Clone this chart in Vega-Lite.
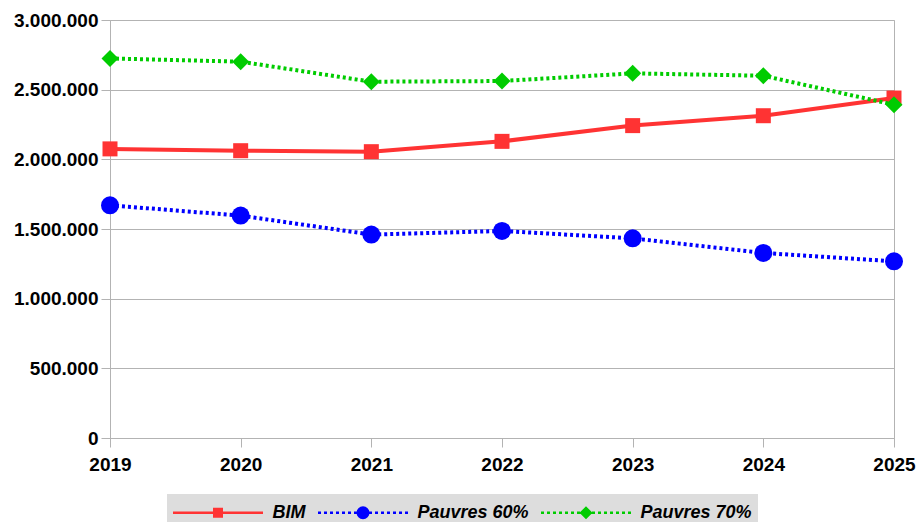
{
  "$schema": "https://vega.github.io/schema/vega-lite/v6.json",
  "width": 784,
  "height": 418,
  "autosize": {"type": "none"},
  "padding": {"left": 110, "top": 20, "right": 22, "bottom": 84},
  "background": "white",
  "data": {
    "values": [
      {"year": "2019", "series": "BIM", "value": 2075000},
      {"year": "2020", "series": "BIM", "value": 2062000},
      {"year": "2021", "series": "BIM", "value": 2055000},
      {"year": "2022", "series": "BIM", "value": 2129000},
      {"year": "2023", "series": "BIM", "value": 2242000},
      {"year": "2024", "series": "BIM", "value": 2313000},
      {"year": "2025", "series": "BIM", "value": 2440000},
      {"year": "2019", "series": "Pauvres 60%", "value": 1670000},
      {"year": "2020", "series": "Pauvres 60%", "value": 1596000},
      {"year": "2021", "series": "Pauvres 60%", "value": 1460000},
      {"year": "2022", "series": "Pauvres 60%", "value": 1486000},
      {"year": "2023", "series": "Pauvres 60%", "value": 1433000},
      {"year": "2024", "series": "Pauvres 60%", "value": 1328000},
      {"year": "2025", "series": "Pauvres 60%", "value": 1268000},
      {"year": "2019", "series": "Pauvres 70%", "value": 2724000},
      {"year": "2020", "series": "Pauvres 70%", "value": 2701000},
      {"year": "2021", "series": "Pauvres 70%", "value": 2557000},
      {"year": "2022", "series": "Pauvres 70%", "value": 2562000},
      {"year": "2023", "series": "Pauvres 70%", "value": 2617000},
      {"year": "2024", "series": "Pauvres 70%", "value": 2600000},
      {"year": "2025", "series": "Pauvres 70%", "value": 2392000}
    ]
  },
  "encoding": {
    "x": {
      "field": "year",
      "type": "ordinal",
      "scale": {"type": "point", "padding": 0},
      "axis": {"title": null, "labelAngle": 0, "grid": false, "labelPadding": 8}
    },
    "y": {
      "field": "value",
      "type": "quantitative",
      "scale": {"domain": [0, 3000000], "nice": false},
      "axis": {"title": null, "values": [0, 500000, 1000000, 1500000, 2000000, 2500000, 3000000], "format": ",d", "labelPadding": 3}
    },
    "color": {
      "field": "series",
      "type": "nominal",
      "scale": {"domain": ["BIM", "Pauvres 60%", "Pauvres 70%"], "range": ["#ff3333", "#0000ff", "#00cc00"]},
      "legend": {
        "title": null,
        "orient": "none",
        "direction": "horizontal",
        "legendX": 57,
        "legendY": 474,
        "fillColor": "#dddddd",
        "padding": 6,
        "columnPadding": 12,
        "symbolSize": 625,
        "symbolOffset": 32.5,
        "labelOffset": 42,
        "labelFont": "Liberation Sans",
        "labelFontSize": 18,
        "labelFontWeight": "bold",
        "labelFontStyle": "italic",
        "labelColor": "black",
        "encode": {
          "symbols": {
            "update": {
              "shape": {"signal": "datum.value === 'BIM' ? 'M-3.6,-0.1H3.6V0.1H-3.6ZM-0.4,-0.4H0.4V0.4H-0.4Z' : (datum.value === 'Pauvres 60%' ? 'M0.52,0L0.48,0.2L0.368,0.368L0.2,0.48L0,0.52L-0.2,0.48L-0.368,0.368L-0.48,0.2L-0.52,0L-0.48,-0.2L-0.368,-0.368L-0.2,-0.48L0,-0.52L0.2,-0.48L0.368,-0.368L0.48,-0.2Z' : 'M-0.52,0L0,-0.52L0.52,0L0,0.52Z') + 'M-3.6,-0.1H-3.36V0.1H-3.6ZM-3.12,-0.1H-2.88V0.1H-3.12ZM-2.64,-0.1H-2.4V0.1H-2.64ZM-2.16,-0.1H-1.92V0.1H-2.16ZM-1.68,-0.1H-1.44V0.1H-1.68ZM-1.2,-0.1H-0.96V0.1H-1.2ZM-0.72,-0.1H-0.48V0.1H-0.72ZM0.48,-0.1H0.72V0.1H0.48ZM0.96,-0.1H1.2V0.1H0.96ZM1.44,-0.1H1.68V0.1H1.44ZM1.92,-0.1H2.16V0.1H1.92ZM2.4,-0.1H2.64V0.1H2.4ZM2.88,-0.1H3.12V0.1H2.88ZM3.36,-0.1H3.6V0.1H3.36Z'"},
              "fill": {"scale": "color", "field": "value"},
              "stroke": {"value": "transparent"},
              "strokeWidth": {"value": 0},
              "opacity": {"value": 1},
              "fillOpacity": {"value": 1}
            }
          }
        }
      }
    }
  },
  "layer": [
    {
      "transform": [{"filter": "datum.series === 'BIM'"}],
      "mark": {"type": "line", "strokeWidth": 4}
    },
    {
      "transform": [{"filter": "datum.series === 'BIM'"}],
      "mark": {"type": "point", "shape": "square", "size": 225, "filled": true, "opacity": 1}
    },
    {
      "transform": [{"filter": "datum.series === 'Pauvres 60%'"}],
      "mark": {"type": "line", "strokeWidth": 4, "strokeDash": [3, 3]}
    },
    {
      "transform": [{"filter": "datum.series === 'Pauvres 60%'"}],
      "mark": {"type": "point", "shape": "circle", "size": 324, "filled": true, "opacity": 1}
    },
    {
      "transform": [{"filter": "datum.series === 'Pauvres 70%'"}],
      "mark": {"type": "line", "strokeWidth": 4, "strokeDash": [3, 3]}
    },
    {
      "transform": [{"filter": "datum.series === 'Pauvres 70%'"}],
      "mark": {"type": "point", "shape": "diamond", "size": 289, "filled": true, "opacity": 1}
    }
  ],
  "config": {
    "locale": {"number": {"decimal": ",", "thousands": ".", "grouping": [3], "currency": ["", " €"]}},
    "view": {"stroke": "#b3b3b3", "strokeWidth": 1},
    "axis": {
      "labelFont": "Liberation Sans",
      "labelFontSize": 19,
      "labelFontWeight": "bold",
      "labelColor": "black",
      "domainColor": "#b3b3b3",
      "tickColor": "#b3b3b3",
      "gridColor": "#b3b3b3",
      "gridOpacity": 1,
      "tickSize": 9,
      "domainWidth": 1,
      "tickWidth": 1
    }
  }
}
